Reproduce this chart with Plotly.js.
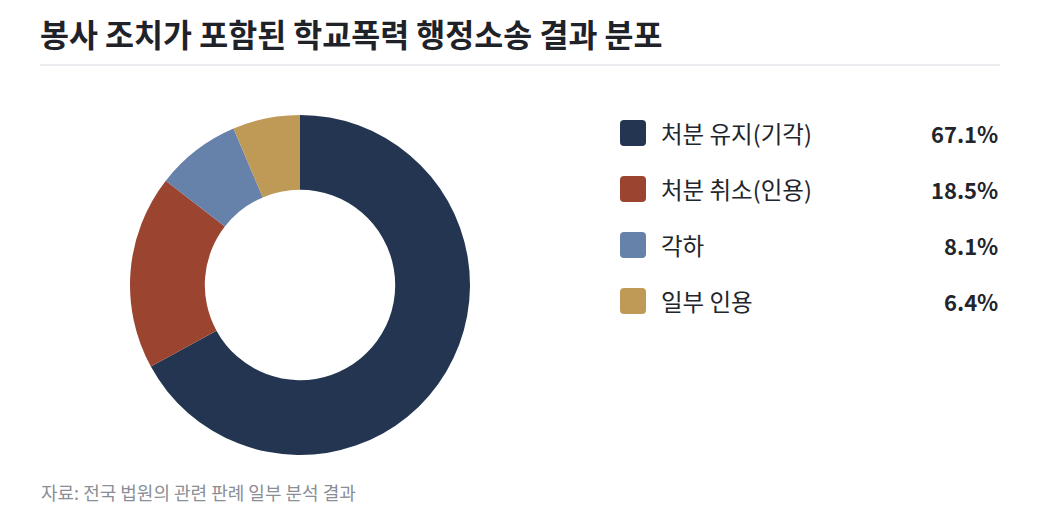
<!DOCTYPE html>
<html>
<head>
<meta charset="utf-8">
<script src="https://cdn.plot.ly/plotly-3.0.1.min.js"></script>
<style>
  html, body { margin: 0; padding: 0; background: #fff; }
  #chart { width: 1040px; height: 525px; }
</style>
</head>
<body>
<div id="chart"></div>
<script>
// data
var labels = ['처분 유지(기각)', '처분 취소(인용)', '각하', '일부 인용'];
var values = [67.1, 18.5, 8.1, 6.4];
var colors = ['#233550', '#9b4530', '#6682ab', '#bf9a57'];

var W = 1040, H = 525;
var font = '"Noto Sans CJK KR", "Noto Sans", sans-serif';

// pixel -> paper helpers
function px(x) { return x / W; }
function py(y) { return 1 - y / H; }

var trace = {
  type: 'pie',
  labels: labels,
  values: values,
  marker: { colors: colors, line: { width: 0 } },
  hole: 0.56,
  sort: false,
  direction: 'clockwise',
  rotation: 0,
  textinfo: 'none',
  hoverinfo: 'label+percent',
  showlegend: false,
  domain: { x: [px(130), px(470)], y: [py(455), py(115)] }
};

var shapes = [
  // rule under title
  { type: 'line', xref: 'paper', yref: 'paper', x0: px(40), x1: px(1000), y0: py(65), y1: py(65),
    line: { color: '#e4e6ea', width: 1.5 } }
];
var annotations = [
  { text: '<b>봉사 조치가 포함된 학교폭력 행정소송 결과 분포</b>', xref: 'paper', yref: 'paper',
    x: px(38), y: py(33), xanchor: 'left', yanchor: 'middle', showarrow: false,
    font: { family: font, size: 31.5, color: '#1f2329' } },
  { text: '자료: 전국 법원의 관련 판례 일부 분석 결과', xref: 'paper', yref: 'paper',
    x: px(39), y: py(492), xanchor: 'left', yanchor: 'middle', showarrow: false,
    font: { family: font, size: 18, color: '#8a8e96' } }
];

// custom legend rows
var rowTop = 133, rowGap = 56, sq = 26, r = 4;
labels.forEach(function (lab, i) {
  var cy = rowTop + i * rowGap;
  var x0 = 620, x1 = x0 + sq, y0 = cy - sq / 2, y1 = cy + sq / 2;
  var p = 'M' + px(x0 + r) + ',' + py(y0) +
    ' L' + px(x1 - r) + ',' + py(y0) + ' Q' + px(x1) + ',' + py(y0) + ' ' + px(x1) + ',' + py(y0 + r) +
    ' L' + px(x1) + ',' + py(y1 - r) + ' Q' + px(x1) + ',' + py(y1) + ' ' + px(x1 - r) + ',' + py(y1) +
    ' L' + px(x0 + r) + ',' + py(y1) + ' Q' + px(x0) + ',' + py(y1) + ' ' + px(x0) + ',' + py(y1 - r) +
    ' L' + px(x0) + ',' + py(y0 + r) + ' Q' + px(x0) + ',' + py(y0) + ' ' + px(x0 + r) + ',' + py(y0) + ' Z';
  shapes.push({ type: 'path', xref: 'paper', yref: 'paper', path: p,
    fillcolor: colors[i], line: { width: 0 } });
  annotations.push({ text: lab, xref: 'paper', yref: 'paper', x: px(659), y: py(cy),
    xanchor: 'left', yanchor: 'middle', showarrow: false,
    font: { family: font, size: 23.5, color: '#22252b' } });
  annotations.push({ text: values[i].toFixed(1) + '%', xref: 'paper', yref: 'paper', x: px(1000), y: py(cy),
    xanchor: 'right', yanchor: 'middle', showarrow: false,
    font: { family: font, size: 22, color: '#22252b', weight: 600 } });
});

var layout = {
  width: W, height: H,
  margin: { l: 0, r: 0, t: 0, b: 0 },
  paper_bgcolor: '#fff',
  plot_bgcolor: '#fff',
  font: { family: font },
  shapes: shapes,
  annotations: annotations
};

Plotly.newPlot('chart', [trace], layout, { displayModeBar: false, staticPlot: true });
</script>
</body>
</html>
